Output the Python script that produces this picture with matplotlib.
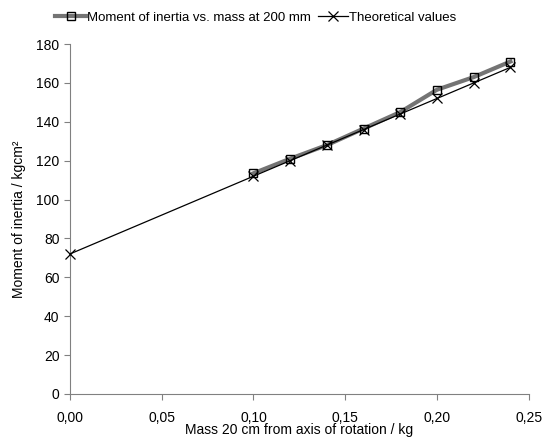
import matplotlib
matplotlib.use("Agg")
import matplotlib.pyplot as plt
import matplotlib.ticker as mtick

plt.rcParams['font.family'] = ['Liberation Sans', 'DejaVu Sans']

# measured values
mass_meas = [0.10, 0.12, 0.14, 0.16, 0.18, 0.20, 0.22, 0.24]
inertia_meas = [113.5, 121.0, 128.0, 136.5, 145.0, 156.5, 163.0, 171.0]

# theoretical values
mass_theo = [0.00, 0.10, 0.12, 0.14, 0.16, 0.18, 0.20, 0.22, 0.24]
inertia_theo = [72.0, 112.0, 120.0, 128.0, 136.0, 144.0, 152.0, 160.0, 168.0]

x_ticks = [0.00, 0.05, 0.10, 0.15, 0.20, 0.25]
y_ticks = [0, 20, 40, 60, 80, 100, 120, 140, 160, 180]

fig = plt.figure(figsize=(5.59, 4.38), dpi=100)
ax = fig.add_axes([0.125, 0.1005, 0.821, 0.799])

ax.plot(mass_meas, inertia_meas, color="#747474", linewidth=3.0,
        marker="s", markersize=6.2, markerfacecolor="none",
        markeredgecolor="black", markeredgewidth=1.0,
        label="Moment of inertia vs. mass at 200 mm", clip_on=False, zorder=3)
ax.plot(mass_theo, inertia_theo, color="black", linewidth=0.9,
        marker="x", markersize=7.5, markeredgewidth=0.9,
        label="Theoretical values", clip_on=False, zorder=4)

ax.set_xlim(0, 0.25)
ax.set_ylim(0, 180)
ax.set_xticks(x_ticks)
ax.set_yticks(y_ticks)
ax.xaxis.set_major_formatter(mtick.FuncFormatter(lambda v, p: f"{v:.2f}".replace(".", ",")))

for s in ["top", "right"]:
    ax.spines[s].set_visible(False)
for s in ["left", "bottom"]:
    ax.spines[s].set_color("#808080")
ax.tick_params(colors="#808080", labelcolor="black", labelsize=10, length=4, direction="out")
ax.tick_params(axis="x", pad=8)

ax.set_xlabel("Mass 20 cm from axis of rotation / kg", fontsize=10, labelpad=-1)
ax.set_ylabel("Moment of inertia / kgcm²", fontsize=10, labelpad=7)

fig.legend(loc="upper center", bbox_to_anchor=(0.458, 1.0), ncol=2, frameon=False,
           fontsize=9.5, handlelength=2.3, handletextpad=0.1, columnspacing=0.5)

fig.savefig("out.png", dpi=100)
